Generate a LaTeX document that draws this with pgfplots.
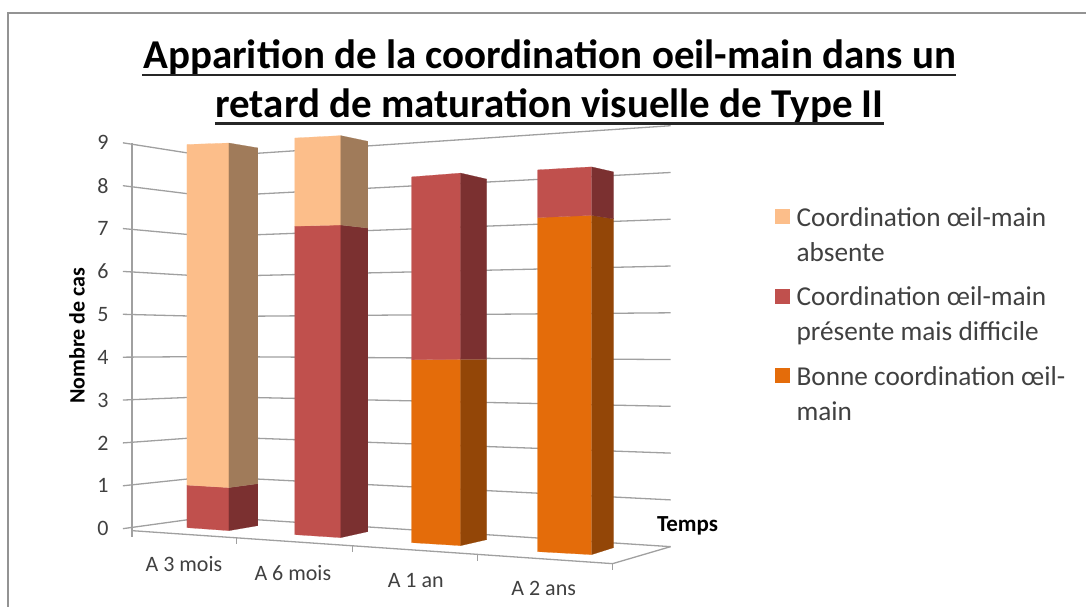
\documentclass[border=0pt]{standalone}
\usepackage{pgfplots}
\pgfplotsset{compat=1.18}
\usepackage{fontspec}
\setmainfont{Carlito}
\definecolor{peachF}{HTML}{FCBE8A}
\definecolor{peachS}{HTML}{A07B5A}
\definecolor{redF}{HTML}{C0504D}
\definecolor{redS}{HTML}{7B3030}
\definecolor{orF}{HTML}{E46C0A}
\definecolor{orS}{HTML}{934607}
\definecolor{gridc}{HTML}{A0A0A0}
\definecolor{txt}{HTML}{404040}
% geometry of the three visible vertical edges of a bar: x, base y, pixels per unit
\newcommand\setbar[9]{\def\xA{#1}\def\bA{#2}\def\sA{#3}\def\xB{#4}\def\bB{#5}\def\sB{#6}\def\xC{#7}\def\bC{#8}\def\sC{#9}}
% one stacked segment: from value #1 to value #2
\newcommand\seg[4]{%
  \pgfmathsetmacro\yAl{\bA-#1*\sA}\pgfmathsetmacro\yAh{\bA-#2*\sA}%
  \pgfmathsetmacro\yBl{\bB-#1*\sB}\pgfmathsetmacro\yBh{\bB-#2*\sB}%
  \pgfmathsetmacro\yCl{\bC-#1*\sC}\pgfmathsetmacro\yCh{\bC-#2*\sC}%
  \addplot[forget plot,fill=#3,draw=#3,line width=.2pt] coordinates {(\xA,\yAl)(\xB,\yBl)(\xB,\yBh)(\xA,\yAh)(\xA,\yAl)};
  \addplot[forget plot,fill=#4,draw=#4,line width=.2pt] coordinates {(\xB,\yBl)(\xC,\yCl)(\xC,\yCh)(\xB,\yBh)(\xB,\yBl)};
}
\newcommand\gridlevel[1]{%
  \pgfmathsetmacro\gl{529-#1*42.9}\pgfmathsetmacro\gm{517-#1*40.05}\pgfmathsetmacro\gr{547-#1*46.8}%
  \addplot[forget plot,gridc,line width=1.3pt] coordinates {(123,\gl)(210,\gm)(671,\gr)};
}
\begin{document}
\begin{tikzpicture}
\begin{axis}[
  scale only axis,width=1087pt,height=607pt,
  xmin=0,xmax=1087,ymin=0,ymax=607,y dir=reverse,
  axis lines=none,clip=false,
  legend image code/.code={\fill[#1] (0pt,-6pt) rectangle (14pt,8pt);},
  legend cell align=left,
  legend style={draw=none,fill=none,at={(0.7130,0.6610)},anchor=north west,
    row sep=56pt,inner sep=0pt,
    nodes={inner xsep=7.5pt,inner ysep=1.5pt,text=txt,font=\fontsize{27.3}{35}\selectfont}},
]
% page extent
\addplot[forget plot,draw=none] coordinates {(0,0)(1087,607)};
% frame of the screenshot
\addplot[forget plot,gray!85,line width=1.4pt] coordinates {(8,607)(8,13)(1087,13)};
% walls
\pgfplotsinvokeforeach{0,...,9}{\gridlevel{#1}}
\addplot[forget plot,gridc,line width=1.3pt] coordinates {(132,143)(132,537)};
% floor
\addplot[forget plot,gridc,line width=1.3pt] coordinates {(132,531)(613,564)(671,547)};
\addplot[forget plot,gridc,line width=1.3pt] coordinates {(237,538)(237,544)};
\addplot[forget plot,gridc,line width=1.3pt] coordinates {(353,546)(353,552)};
\addplot[forget plot,gridc,line width=1.3pt] coordinates {(478,555)(478,561)};
\addplot[forget plot,gridc,line width=1.3pt] coordinates {(613,564)(613,570)};
% A 3 mois
\setbar{187}{528}{42.6}{229}{531}{43.1}{258}{526}{42}
\seg{0}{1}{redF}{redS}
\seg{1}{9}{peachF}{peachS}
% A 6 mois
\setbar{295}{535}{44.1}{341}{538}{44.7}{368}{532}{43.4}
\seg{0}{7}{redF}{redS}
\seg{7}{9}{peachF}{peachS}
% A 1 an
\setbar{412}{543}{45.75}{461}{546}{46.6}{487}{540}{45.1}
\seg{0}{4}{orF}{orS}
\seg{4}{8}{redF}{redS}
% A 2 ans
\setbar{538}{552}{47.75}{592}{555}{48.5}{614}{548}{47}
\seg{0}{7}{orF}{orS}
\seg{7}{8}{redF}{redS}
% legend
\addlegendimage{peachF}\addlegendentry{\parbox[t]{280pt}{Coordination œil-main\\absente}}
\addlegendimage{redF}\addlegendentry{\parbox[t]{280pt}{Coordination œil-main\\présente mais difficile}}
\addlegendimage{orF}\addlegendentry{\parbox[t]{280pt}{Bonne coordination œil-\\main}}
% title
\node[anchor=base,inner sep=0pt,font=\fontsize{41}{44}\bfseries\selectfont,text=black] at (axis cs:550,69) {Apparition de la coordination oeil-main dans un};
\node[anchor=base,inner sep=0pt,font=\fontsize{41}{44}\bfseries\selectfont,text=black] at (axis cs:550,118) {retard de maturation visuelle de Type II};
\addplot[forget plot,black!85,line width=2.6pt] coordinates {(142,75)(957,75)};
\addplot[forget plot,black!85,line width=2.6pt] coordinates {(215,123.5)(885,123.5)};
% y tick labels
\pgfplotsinvokeforeach{0,...,9}{%
  \pgfmathsetmacro\ty{529-#1*42.9}%
  \edef\tmp{\noexpand\node[text=txt,inner sep=0pt,font=\noexpand\fontsize{22}{26}\noexpand\selectfont] at (axis cs:103,\ty) {#1};}\tmp
}
% category labels
\node[text=txt,inner sep=0pt,font=\fontsize{22}{26}\selectfont] at (axis cs:184,564) {A 3 mois};
\node[text=txt,inner sep=0pt,font=\fontsize{22}{26}\selectfont] at (axis cs:293,573) {A 6 mois};
\node[text=txt,inner sep=0pt,font=\fontsize{22}{26}\selectfont] at (axis cs:416,581) {A 1 an};
\node[text=txt,inner sep=0pt,font=\fontsize{22}{26}\selectfont] at (axis cs:544,589) {A 2 ans};
% axis titles
\node[rotate=90,text=black,inner sep=0pt,font=\fontsize{22}{26}\bfseries\selectfont] at (axis cs:77,336) {Nombre de cas};
\node[text=black,inner sep=0pt,font=\fontsize{23}{26}\bfseries\selectfont] at (axis cs:688,526) {Temps};
\end{axis}
\end{tikzpicture}
\end{document}
